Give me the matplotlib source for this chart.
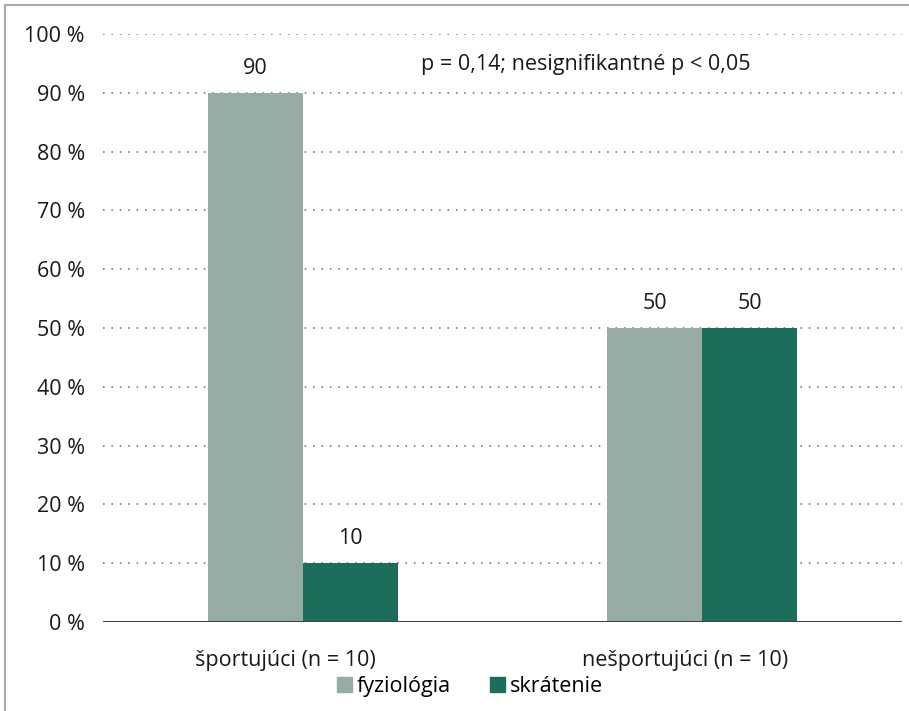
import matplotlib.pyplot as plt
from matplotlib.lines import Line2D
from matplotlib.patches import Patch
import numpy as np

plt.rcParams['font.family'] = ['Open Sans', 'DejaVu Sans']

groups = ['športujúci (n = 10)', 'nešportujúci (n = 10)']
series_names = ['fyziológia', 'skrátenie']
fyziologia = [90, 50]
skratenie = [10, 50]
colors = ['#97ada3', '#1b6e5b']
yticks = [0, 10, 20, 30, 40, 50, 60, 70, 80, 90, 100]

fs = 15.5
fig = plt.figure(figsize=(9.09, 7.11), dpi=100)
ax = fig.add_axes([0.1133, 0.1252, 0.879, 0.827])

x = np.arange(len(groups))
w = 0.2375
bars1 = ax.bar(x - w / 2, fyziologia, w, color=colors[0], zorder=3)
bars2 = ax.bar(x + w / 2, skratenie, w, color=colors[1], zorder=3)

for bars, vals in [(bars1, fyziologia), (bars2, skratenie)]:
    for b, v in zip(bars, vals):
        ax.text(b.get_x() + b.get_width() / 2, v + 4.2, str(v),
                ha='center', va='center', fontsize=fs, color='#1a1a1a')

ax.set_xlim(-0.5, 1.5)
ax.set_ylim(0, 100)
ax.set_yticks(yticks)
ax.set_yticklabels([f'{t} %' for t in yticks], fontsize=fs, color='#1a1a1a')
# category labels sit a little left of the group centre
ax.set_xticks(x - 0.043)
ax.set_xticklabels(groups, fontsize=fs, color='#1a1a1a')
ax.tick_params(length=0, axis='y', pad=13)
ax.tick_params(length=0, axis='x', pad=20)

for t in yticks[1:]:
    ax.axhline(t, color='#666666', lw=1.1, ls=(0, (1, 4.5)), zorder=1)
ax.axhline(0, color='#444444', lw=1.5, zorder=4)

for s in ax.spines.values():
    s.set_visible(False)

ax.text(0.709, 94.8, 'p = 0,14; nesignifikantné p < 0,05', ha='center', va='center',
        fontsize=fs, color='#1a1a1a')

handles = [Patch(color=c) for c in colors]
fig.legend(handles, series_names, loc='center', bbox_to_anchor=(0.517, 0.035),
           ncol=2, frameon=False, fontsize=fs, handlelength=0.7,
           handleheight=0.7, handletextpad=0.25, columnspacing=1.8)

# frame lines along the top and left edge
fig.add_artist(Line2D([5 / 909, 1], [1 - 5 / 711] * 2, color='#aaaaaa', lw=1.5))
fig.add_artist(Line2D([5 / 909] * 2, [0, 1 - 5 / 711], color='#aaaaaa', lw=1.5))

fig.savefig('out.png', dpi=100)
